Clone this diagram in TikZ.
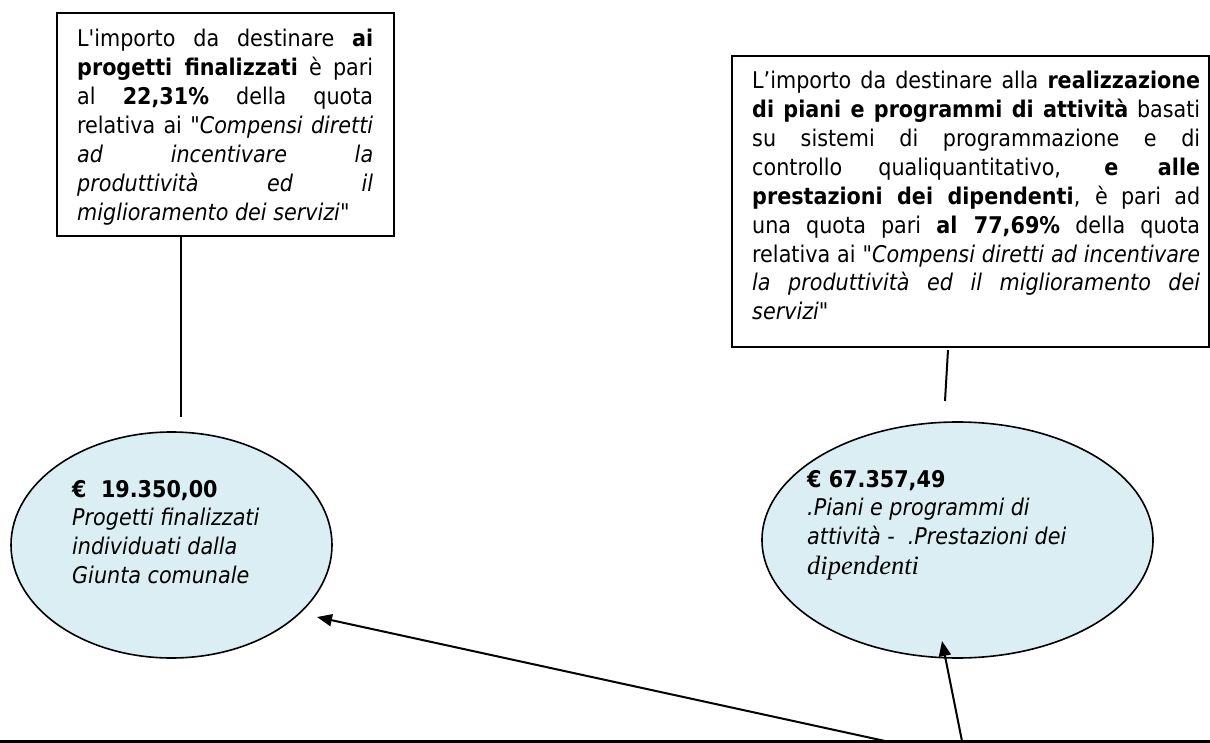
\documentclass[tikz,border=0pt]{standalone}
\usepackage{fontspec}
\usetikzlibrary{shapes.geometric,arrows.meta}
\newfontfamily\tah{DejaVu Sans Condensed}
\newfontfamily\serit{Liberation Serif}[UprightFont={* Italic}]
\definecolor{ellfill}{HTML}{DAEEF3}
\tikzset{
  boxframe/.style={draw=black, line width=1.6pt, inner sep=0pt, anchor=north west},
  ellnode/.style={ellipse, draw=black, line width=1.6pt, fill=ellfill, inner sep=0pt},
  conn/.style={draw=black, line width=2pt},
  arr/.style={draw=black, line width=2pt, -{Triangle[length=15pt,width=12pt]}},
  txt/.style={inner sep=0pt, anchor=base west},
  baseline rule/.style={draw=black, line width=3pt},
}
% right box lines
\def\RA{L’importo da destinare alla \textbf{realizzazione}}
\def\RB{\textbf{di piani e programmi di attività} basati}
\def\RC{su sistemi di programmazione e di}
\def\RD{controllo qualiquantitativo, \textbf{e alle}}
\def\RE{\textbf{prestazioni dei dipendenti}, è pari ad}
\def\RF{una quota pari \textbf{al 77,69\%} della quota}
\def\RG{relativa ai "\textit{Compensi diretti ad incentivare}}
\def\RH{\textit{la produttività ed il miglioramento dei}}
\def\RI{\textit{servizi}"}
% left box lines
\def\LA{L'importo da destinare \textbf{ai}}
\def\LB{\textbf{progetti finalizzati} è pari}
\def\LC{al \textbf{22,31\%} della quota}
\def\LD{relativa ai "\textit{Compensi diretti}}
\def\LE{\textit{ad incentivare la}}
\def\LF{\textit{produttività ed il}}
\def\LG{\textit{miglioramento dei servizi}"}
\newdimen\mw
\newdimen\tw
\newcommand\chk[1]{\setbox0=\hbox{\tah\fontsize{10}{12}\selectfont #1}\tw=\wd0\relax\ifdim\tw>\mw\global\mw=\tw\fi}
\AtBeginDocument{%
  \global\mw=0pt
  \chk{\RA}\chk{\RB}\chk{\RC}\chk{\RD}\chk{\RE}\chk{\RF}\chk{\RG}\chk{\RH}%
  \pgfmathparse{10*446/\mw}\xdef\fsR{\pgfmathresult}%
  \global\mw=0pt
  \chk{\LA}\chk{\LB}\chk{\LC}\chk{\LD}\chk{\LE}\chk{\LF}%
  \pgfmathparse{10*294/\mw}\xdef\fsL{\pgfmathresult}%
  \pgfmathparse{min(\fsR,\fsL)}\xdef\fs{\pgfmathresult}%
  \pgfmathparse{1.15*\fs}\xdef\fsD{\pgfmathresult}%
}
\newcommand\bodyfont{\tah\fontsize{\fs}{28.85}\selectfont}
\newcommand\ellfont{\tah\fontsize{\fs}{28.7}\selectfont}
\begin{document}
\begin{tikzpicture}[x=1pt,y=-1pt]
\useasboundingbox (0,0) rectangle (1210,743);
% boxes
\node[boxframe, minimum width=337pt, minimum height=223pt] (lbox) at (56,12) {};
\node[txt, font=\bodyfont] (ltext) at (77,47) {\parbox[t]{296pt}{\LA\linebreak \LB\linebreak \LC\linebreak \LD\linebreak \LE\linebreak \LF\linebreak \LG}};
\node[boxframe, minimum width=477pt, minimum height=291pt] (rbox) at (731,55) {};
\node[txt, font=\bodyfont] (rtext) at (752,89) {\parbox[t]{448pt}{\RA\linebreak \RB\linebreak \RC\linebreak \RD\linebreak \RE\linebreak \RF\linebreak \RG\linebreak \RH\linebreak \RI}};
% ellipses
\node[ellnode, minimum width=321pt, minimum height=226pt] (lell) at (171.5,545) {};
\node[ellnode, minimum width=391pt, minimum height=236pt] (rell) at (957.5,540) {};
\node[txt, font=\ellfont] (ltxt) at (72,497) {\parbox[t]{260pt}{\raggedright\textbf{€\ \ 19.350,00}\\\textit{Progetti finalizzati}\\\textit{individuati dalla}\\\textit{Giunta comunale}}};
\node[txt, font=\ellfont] (rtxt) at (807,487) {\parbox[t]{300pt}{\raggedright\textbf{€ 67.357,49}\\\textit{.Piani e programmi di}\\\textit{attività -\ \ .Prestazioni dei}\\[1.5pt]{\serit\fontsize{\fsD}{28.7}\selectfont dipendenti}}};
% connectors
\coordinate (lc1) at (181,417);
\draw[conn] (lbox.south -| lc1) -- (lc1);
\coordinate (rc0) at (948,350);
\coordinate (rc1) at (945,401);
\draw[conn] (rc0) -- (rc1);
% bottom rule and arrows
\coordinate (bl0) at (0,741);
\coordinate (bl1) at (1210,741);
\draw[baseline rule] (bl0) -- (bl1);
\coordinate (a1s) at (885,741);
\coordinate (a1e) at (317,617);
\draw[arr] (a1s) -- (a1e);
\coordinate (a2s) at (962,741);
\coordinate (a2e) at (942,641);
\draw[arr] (a2s) -- (a2e);
\end{tikzpicture}
\end{document}
